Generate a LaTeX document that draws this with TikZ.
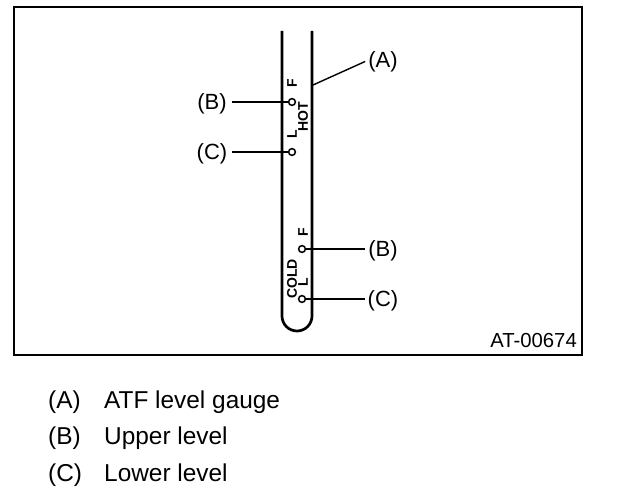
\documentclass[tikz,border=0pt]{standalone}
\usepackage{fontspec}
\setmainfont{Liberation Sans}
\begin{document}
\begin{tikzpicture}[x=1pt,y=-1pt,
  tube/.style={line width=2.7pt,line cap=butt},
  lead/.style={line width=1.9pt},
  leadthin/.style={line width=1.4pt},
  port/.style={circle,draw,line width=1.5pt,fill=white,minimum size=6.8pt,inner sep=0pt},
  lab/.style={font=\fontsize{22}{24}\selectfont,inner sep=0pt},
  gauge/.style={font=\fontsize{14}{15}\selectfont\bfseries,inner sep=0pt,rotate=90},
  legend/.style={font=\fontsize{24.4}{26}\selectfont,inner sep=0pt,anchor=base west}]
\useasboundingbox (0,0) rectangle (624,502);
\fill[white] (0,0) rectangle (624,502);
\node[draw,line width=1.6pt,minimum width=568pt,minimum height=348pt,inner sep=0pt] (frame) at (298,181) {};
% tube
\draw[tube] (282,31) -- (282,316) arc[start angle=180,end angle=0,x radius=15,y radius=15] -- (312,31);
% gauge marks
\node[gauge] (fh) at (292,83) {F};
\node[gauge] (hot) at (303,117) {HOT};
\node[gauge] (lh) at (292,134) {L};
\node[gauge] (fc) at (303,232) {F};
\node[gauge] (cold) at (292,279) {COLD};
\node[gauge] (lc) at (303,282) {L};
% ports
\node[port] (p1) at (292,102) {};
\node[port] (p2) at (292,152) {};
\node[port] (p3) at (302,249) {};
\node[port] (p4) at (302,299) {};
% labels
\node[lab] (a) at (383,61.5) {(A)};
\node[lab] (b1) at (212,103.5) {(B)};
\node[lab] (c1) at (212,153.5) {(C)};
\node[lab] (b2) at (383,250.5) {(B)};
\node[lab] (c2) at (383,300.5) {(C)};
\coordinate (atube) at (313,85);
\draw[leadthin] (atube) -- ([xshift=-3pt]a.west);
\draw[lead] ([xshift=5pt,yshift=1.5pt]b1.east) -- (p1.west);
\draw[lead] ([xshift=5pt,yshift=1.5pt]c1.east) -- (p2.west);
\draw[lead] (p3.east) -- ([xshift=-3pt,yshift=1.5pt]b2.west);
\draw[lead] (p4.east) -- ([xshift=-3pt,yshift=1.5pt]c2.west);
\node[font=\fontsize{20.3}{22}\selectfont,inner sep=0pt,anchor=east] (id) at (577,341) {AT-00674};
% legend
\node[legend] (la) at (48,409) {(A)};
\node[legend] (ta) at (104,409) {ATF level gauge};
\node[legend] (lb) at (48,445) {(B)};
\node[legend] (tb) at (104,445) {Upper level};
\node[legend] (lc2) at (48,481) {(C)};
\node[legend] (tc) at (104,481) {Lower level};
\end{tikzpicture}
\end{document}
